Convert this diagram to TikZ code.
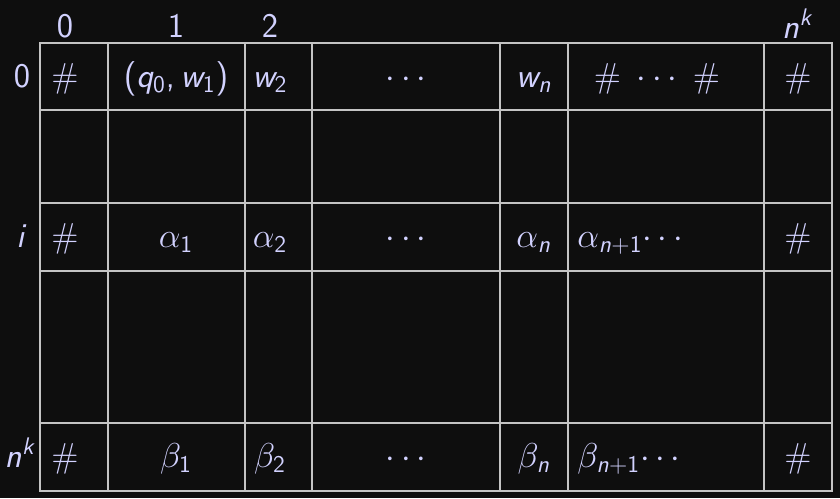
\documentclass[tikz,border=0pt]{standalone}
\usetikzlibrary{positioning}
\usepackage{xcolor}
\definecolor{bgdark}{RGB}{14,14,14}
\definecolor{gridgray}{RGB}{196,196,196}
\definecolor{textlav}{RGB}{210,210,255}
% sans math letters and digits
\DeclareSymbolFont{sfops}{OT1}{cmss}{m}{n}
\DeclareSymbolFont{sfletters}{OT1}{cmss}{m}{sl}
\DeclareMathSymbol{q}{\mathalpha}{sfletters}{`q}
\DeclareMathSymbol{w}{\mathalpha}{sfletters}{`w}
\DeclareMathSymbol{n}{\mathalpha}{sfletters}{`n}
\DeclareMathSymbol{k}{\mathalpha}{sfletters}{`k}
\DeclareMathSymbol{i}{\mathalpha}{sfletters}{`i}
\DeclareMathSymbol{0}{\mathalpha}{sfops}{`0}
\DeclareMathSymbol{1}{\mathalpha}{sfops}{`1}
\DeclareMathSymbol{2}{\mathalpha}{sfops}{`2}
\DeclareMathSymbol{+}{\mathbin}{sfops}{`+}
\DeclareMathSymbol{(}{\mathopen}{sfops}{`(}
\DeclareMathSymbol{)}{\mathclose}{sfops}{`)}
\DeclareMathSymbol{,}{\mathpunct}{sfops}{`,}
\tikzset{
  cell/.style={text=textlav,font=\fontsize{17}{20}\selectfont,inner sep=0pt,anchor=base},
  gridline/.style={draw=gridgray,line width=1pt}
}
\begin{document}
\begin{tikzpicture}[x=0.5pt,y=-0.5pt]
\fill[bgdark] (0,0) rectangle (840,498);
% grid
\draw[gridline] (40,43) rectangle (832,491);
\foreach \x in {108,245,312,500,568,764} \draw[gridline] (\x,43)--(\x,491);
\foreach \y in {110,203,271,423} \draw[gridline] (40,\y)--(832,\y);
% column and row indices
\node[cell] (h0) at (65,37) {$0$};
\node[cell] (h1) at (176,37) {$1$};
\node[cell] (h2) at (270,37) {$2$};
\node[cell] (hk) at (798,38) {$n^k$};
\node[cell] (r0) at (22,87) {$0$};
\node[cell] (ri) at (22,247) {$i$};
\node[cell,anchor=base east] (rk) at (37,467) {$n^k$};
% row 0
\node[cell] (t0) at (65,87) {$\#$};
\node[cell] (t1) at (176,87) {$(q_0,w_1)$};
\node[cell] (t2) at (270,87) {$w_2$};
\node[cell] (t3) at (406,87) {$\cdots$};
\node[cell] (t4) at (534,87) {$w_n$};
\node[cell] (t5) at (657,87) {$\#\ \cdots\ \#$};
\node[cell] (t6) at (798,87) {$\#$};
% row i
\node[cell] (a0) at (65,247) {$\#$};
\node[cell] (a1) at (176,247) {$\alpha_1$};
\node[cell] (a2) at (270,247) {$\alpha_2$};
\node[cell] (a3) at (406,247) {$\cdots$};
\node[cell] (a4) at (534,247) {$\alpha_n$};
\node[cell,anchor=base west] (a5) at (577,247) {$\alpha_{n+1}{\cdots}$};
\node[cell] (a6) at (798,247) {$\#$};
% row n^k
\node[cell] (b0) at (65,467) {$\#$};
\node[cell] (b1) at (176,467) {$\beta_1$};
\node[cell] (b2) at (270,467) {$\beta_2$};
\node[cell] (b3) at (406,467) {$\cdots$};
\node[cell] (b4) at (534,467) {$\beta_n$};
\node[cell,anchor=base west] (b5) at (577,467) {$\beta_{n+1}{\cdots}$};
\node[cell] (b6) at (798,467) {$\#$};
\end{tikzpicture}
\end{document}
